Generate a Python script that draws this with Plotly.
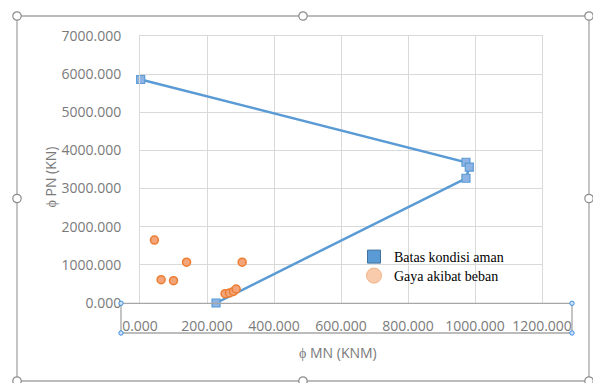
import plotly.graph_objects as go

# Interaction diagram: safe-condition boundary vs. load-induced forces
safe_mn = [2, 973, 983, 973, 227]
safe_pn = [5860, 3690, 3560, 3270, 0]

load_mn = [43, 63, 100, 139, 305, 254, 267, 279, 287]
load_pn = [1650, 610, 585, 1070, 1070, 243, 262, 304, 367]

x_ticks = [0, 200, 400, 600, 800, 1000, 1200]
y_ticks = [0, 1000, 2000, 3000, 4000, 5000, 6000, 7000]

W, H = 593, 383
L, R, T, B = 140, 51, 36, 80
PW, PH = W - L - R, H - T - B


def px(x):
    return (x - L) / PW


def py(y):
    return (H - B - y) / PH


SANS = "Open Sans"
GRAY = "#7a7a7a"
BLUE = "#5B9BD5"
ORANGE = "#ED7D31"

fig = go.Figure()

fig.add_trace(go.Scatter(
    x=safe_mn, y=safe_pn, mode="lines+markers",
    line=dict(color=BLUE, width=2.5),
    marker=dict(symbol="square", size=8, color="#8DB4E2",
                line=dict(color=BLUE, width=1.2)),
    showlegend=False, cliponaxis=False,
))
fig.add_trace(go.Scatter(
    x=load_mn, y=load_pn, mode="markers",
    marker=dict(symbol="circle", size=8, color="#F3A478",
                line=dict(color=ORANGE, width=1.5)),
    showlegend=False, cliponaxis=False,
))

# legend entries
fig.add_trace(go.Scatter(
    x=[None], y=[None], mode="markers", name="Batas kondisi aman",
    marker=dict(symbol="square", size=13, color=BLUE,
                line=dict(color="#41719C", width=1)),
    legend="legend",
))
fig.add_trace(go.Scatter(
    x=[None], y=[None], mode="markers", name="Gaya akibat beban",
    marker=dict(symbol="circle", size=15, color="#F8CBAD",
                line=dict(color="#F4B183", width=1)),
    legend="legend2",
))

axis_common = dict(
    showgrid=True, gridcolor="#D9D9D9", gridwidth=1,
    zeroline=False, showline=True, mirror=True, linecolor="#D9D9D9",
    ticks="", tickformat=".3f",
    tickfont=dict(family=SANS, size=14, color=GRAY),
)

fig.update_xaxes(range=[0, 1200], tickvals=x_ticks, ticklabelstandoff=10,
                 **axis_common)
fig.update_yaxes(range=[0, 7000], tickvals=y_ticks, ticklabelstandoff=15,
                 **axis_common)

shapes = []
# chart frame with sizing handles
shapes.append(dict(type="rect", xref="paper", yref="paper",
                   x0=px(17), x1=px(589), y0=py(16), y1=py(381),
                   line=dict(color="#A6A6A6", width=1.3), layer="above"))
r = 4.2
for hx in (17, 303, 589):
    for hy in (16, 198.5, 381):
        if hx == 303 and hy == 198.5:
            continue
        shapes.append(dict(type="circle", xref="paper", yref="paper",
                           x0=px(hx - r), x1=px(hx + r),
                           y0=py(hy + r), y1=py(hy - r),
                           fillcolor="white",
                           line=dict(color="#8C8C8C", width=1.2),
                           layer="above"))
# horizontal axis selection box
shapes.append(dict(type="rect", xref="paper", yref="paper",
                   x0=px(121), x1=px(572), y0=py(333), y1=py(303.3),
                   line=dict(color="#A6A6A6", width=1.3), layer="above"))
rs = 2.2
for hx in (121, 572):
    for hy in (303.3, 333):
        shapes.append(dict(type="circle", xref="paper", yref="paper",
                           x0=px(hx - rs), x1=px(hx + rs),
                           y0=py(hy + rs), y1=py(hy - rs),
                           fillcolor="#CFE2F7",
                           line=dict(color="#3C8DDE", width=1),
                           layer="above"))

annotations = [
    dict(text="ϕ PN (KN)", xref="paper", yref="paper",
         x=px(50), y=py(177.5), textangle=-90, showarrow=False,
         xanchor="center", yanchor="middle",
         font=dict(family=SANS, size=14, color=GRAY)),
    dict(text="ϕ MN (KNM)", xref="paper", yref="paper",
         x=px(338), y=py(352), showarrow=False,
         xanchor="center", yanchor="middle",
         font=dict(family=SANS, size=14, color=GRAY)),
]

legend_style = dict(xanchor="left", yanchor="top",
                    bgcolor="rgba(0,0,0,0)",
                    borderwidth=0, itemsizing="trace",
                    font=dict(family="Liberation Serif", size=14,
                              color="#000000"))

fig.update_layout(
    width=W, height=H,
    margin=dict(l=L, r=R, t=T, b=B, autoexpand=False),
    paper_bgcolor="white", plot_bgcolor="white",
    shapes=shapes, annotations=annotations,
    legend=dict(x=px(354), y=py(241), **legend_style),
    legend2=dict(x=px(354), y=py(260), **legend_style),
)

fig.write_html("out.html")
